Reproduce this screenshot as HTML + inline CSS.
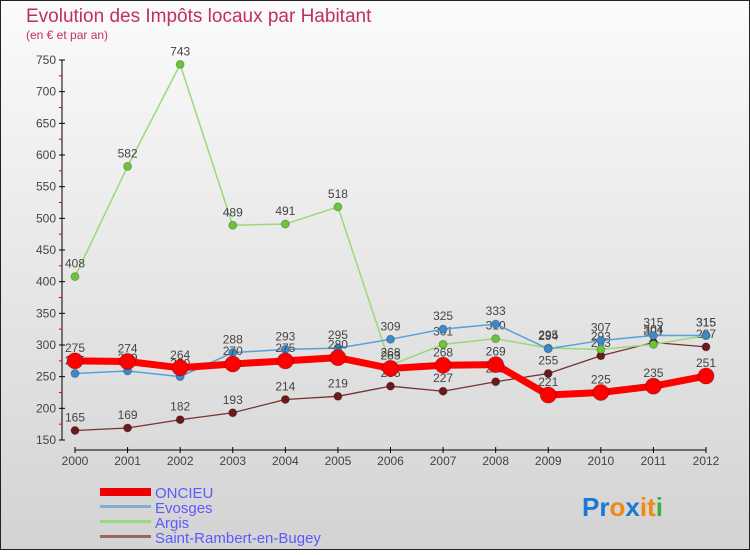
<!DOCTYPE html>
<html><head><meta charset="utf-8"><style>
body{margin:0;width:750px;height:550px;overflow:hidden;font-family:"Liberation Sans",sans-serif}
</style></head><body>
<svg width="750" height="550" xmlns="http://www.w3.org/2000/svg" id="svg">
<defs><linearGradient id="bg" x1="0" y1="0" x2="0" y2="1"><stop offset="0" stop-color="#fbfbfb"/><stop offset="1" stop-color="#d3d3d3"/></linearGradient></defs>
<rect x="0" y="0" width="750" height="550" fill="url(#bg)" stroke="#222" stroke-width="2"/>
<text x="26" y="22" font-size="19" fill="#c0305a">Evolution des Impôts locaux par Habitant</text>
<text x="26" y="39" font-size="12" fill="#c0305a">(en € et par an)</text>
<g id="axes"></g><g id="series"></g>
<g font-size="15" fill="#5a5aff">
<rect x="100" y="488" width="51" height="8" fill="#e00"/><text x="155" y="498">ONCIEU</text>
<rect x="100" y="505" width="51" height="3" fill="#80aed0"/><text x="155" y="513">Evosges</text>
<rect x="100" y="520" width="51" height="3" fill="#99d97a"/><text x="155" y="528">Argis</text>
<rect x="100" y="535" width="51" height="3" fill="#9a6464"/><text x="155" y="543">Saint-Rambert-en-Bugey</text>
</g>
<text x="582" y="516" font-size="26" font-weight="bold"><tspan fill="#1a7ad0">Pr</tspan><tspan fill="#f08a10">o</tspan><tspan fill="#1a7ad0">x</tspan><tspan fill="#f08a10">it</tspan><tspan fill="#3cb03c">i</tspan></text>
</svg>
<script>
const years=["2000","2001","2002","2003","2004","2005","2006","2007","2008","2009","2010","2011","2012"];
const yTicks=[150,200,250,300,350,400,450,500,550,600,650,700,750];
const oncieu=[275,274,264,270,275,280,263,268,269,221,225,235,251];
const evosges=[255,259,250,288,293,295,309,325,333,294,307,315,315];
const argis=[408,582,743,489,491,518,268,301,310,295,293,301,315];
const rambert=[165,169,182,193,214,219,235,227,242,255,283,304,297];
const NS="http://www.w3.org/2000/svg";
const X=i=>75+i*(706-75)/12, Y=v=>440-(v-150)*380/600;
function mk(t,a,p){const e=document.createElementNS(NS,t);for(const k in a)e.setAttribute(k,a[k]);p.appendChild(e);return e;}
const ax=document.getElementById('axes');
let l=mk('line',{x1:62,y1:60,x2:62,y2:440,stroke:'#000'},ax);


l=mk('line',{x1:75,y1:450,x2:706,y2:450,stroke:'#000'},ax);


yTicks.forEach((v,i)=>{mk('line',{x1:59,y1:Y(v),x2:65,y2:Y(v),stroke:'#000'},ax);
 if(i<yTicks.length-1)mk('line',{x1:59,y1:Y(v+25),x2:62,y2:Y(v+25),stroke:'#e00'},ax);
 const t=mk('text',{x:56,y:Y(v)+4,'font-size':12,fill:'#444','text-anchor':'end'},ax);t.textContent=v;
 
 });
years.forEach((y,i)=>{mk('line',{x1:X(i),y1:447,x2:X(i),y2:453,stroke:'#000'},ax);
 const t=mk('text',{x:X(i),y:465,'font-size':12,fill:'#444','text-anchor':'middle'},ax);t.textContent=y;
 
 });
const sg=document.getElementById('series');
function series(d,name,col,w,r,dot){const g=mk('g',{},sg);
 
 
 mk('polyline',{points:d.map((v,i)=>X(i)+','+Y(v)).join(' '),fill:'none',stroke:col,'stroke-width':w,'stroke-linejoin':'round'},g);
 d.forEach((v,i)=>{const c=mk('circle',{cx:X(i),cy:Y(v),r:r,fill:dot,stroke:'rgba(0,0,0,0.25)'},g);
  
  
  const t=mk('text',{x:X(i),y:Y(v)-9,'font-size':12,fill:'#444','text-anchor':'middle'},g);t.textContent=v;});}
series(rambert,'series-saint-rambert','#7a3030',1.3,4,'#6a1a1a');
series(argis,'series-argis','#99d97a',1.5,4,'#6cc43a');
series(evosges,'series-evosges','#5aa0d8',1.5,4,'#3a8ad0');
series(oncieu,'series-oncieu','#f00',7,8,'#f00');
</script>
</body></html>
